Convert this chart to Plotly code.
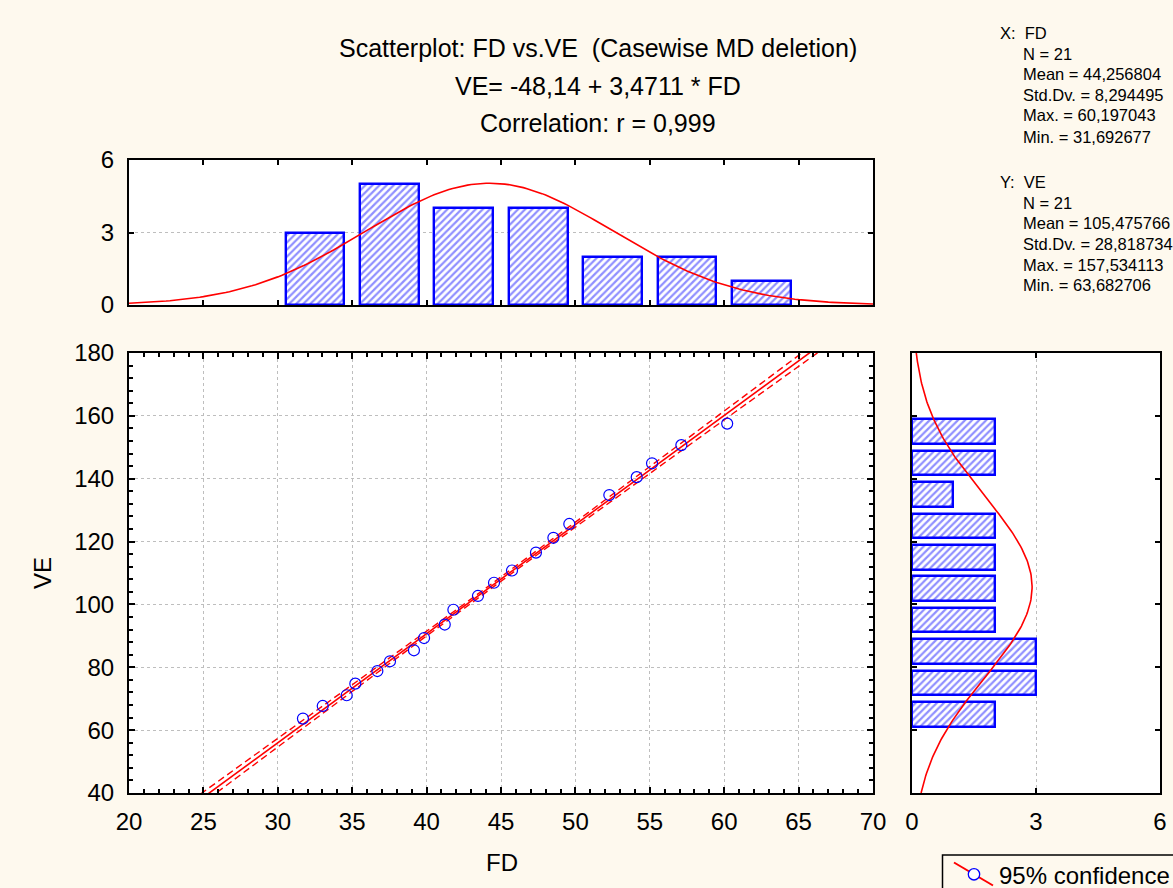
import numpy as np
import plotly.graph_objects as go

# ---------------- data ----------------
fd = [31.69, 33.02, 34.63, 35.21, 36.69, 37.54, 39.15, 39.83, 41.22, 41.80, 43.45,
      44.53, 45.74, 47.35, 48.52, 49.59, 52.28, 54.12, 55.15, 57.12, 60.20]
ve = [63.68, 67.7, 71.1, 74.8, 78.8, 81.9, 85.4, 89.3, 93.6, 98.3, 102.7,
      106.9, 110.8, 116.5, 121.2, 125.6, 134.8, 140.5, 144.9, 150.7, 157.53]

intercept = -48.14
slope = 3.4711

fd_bin_edges = [30, 35, 40, 45, 50, 55, 60, 65]
ve_bin_edges = [60, 70, 80, 90, 100, 110, 120, 130, 140, 150, 160]

x_ticks = [20, 25, 30, 35, 40, 45, 50, 55, 60, 65, 70]
y_ticks = [40, 60, 80, 100, 120, 140, 160, 180]
hist_ticks = [0, 3, 6]

title_lines = ["Scatterplot: FD vs.VE  (Casewise MD deletion)",
               "VE= -48,14 + 3,4711 * FD",
               "Correlation: r = 0,999"]
stats_x = ["X:  FD", "N = 21", "Mean = 44,256804", "Std.Dv. = 8,294495",
           "Max. = 60,197043", "Min. = 31,692677"]
stats_y = ["Y:  VE", "N = 21", "Mean = 105,475766", "Std.Dv. = 28,818734",
           "Max. = 157,534113", "Min. = 63,682706"]
legend_label = "95% confidence"

# ---------------- derived quantities ----------------
fd_a = np.array(fd)
ve_a = np.array(ve)
n = len(fd_a)
fd_mean, fd_sd = fd_a.mean(), fd_a.std(ddof=1)
ve_mean, ve_sd = ve_a.mean(), ve_a.std(ddof=1)

fd_counts, _ = np.histogram(fd_a, bins=fd_bin_edges)
ve_counts, _ = np.histogram(ve_a, bins=ve_bin_edges)
fd_centers = [(a + b) / 2 for a, b in zip(fd_bin_edges[:-1], fd_bin_edges[1:])]
ve_centers = [(a + b) / 2 for a, b in zip(ve_bin_edges[:-1], ve_bin_edges[1:])]

xs = np.linspace(20, 70, 201)
fit = intercept + slope * xs
resid = ve_a - (intercept + slope * fd_a)
s = np.sqrt(np.sum(resid ** 2) / (n - 2))
sxx = np.sum((fd_a - fd_mean) ** 2)
t_crit = 2.093
band = t_crit * s * np.sqrt(1 / n + (xs - fd_mean) ** 2 / sxx)

fd_w = fd_bin_edges[1] - fd_bin_edges[0]
ve_w = ve_bin_edges[1] - ve_bin_edges[0]
curve_fd = n * fd_w * np.exp(-0.5 * ((xs - fd_mean) / fd_sd) ** 2) / (fd_sd * np.sqrt(2 * np.pi))
ys = np.linspace(40, 180, 201)
curve_ve = n * ve_w * np.exp(-0.5 * ((ys - ve_mean) / ve_sd) ** 2) / (ve_sd * np.sqrt(2 * np.pi))

# ---------------- figure ----------------
W, H = 1173, 888
BG = "#FEF9EE"
FONT = "Liberation Sans, Arial, sans-serif"
RED = "#FF0000"
BLUE = "#0000FF"

def px(x):
    return x / W

def py(y):
    return 1 - y / H

fig = go.Figure()

pattern = dict(shape="/", fgcolor="#2020FF", bgcolor="white", size=5, solidity=0.45)

# top histogram
fig.add_trace(go.Bar(x=fd_centers, y=fd_counts, width=3.95, xaxis="x2", yaxis="y2",
                     marker=dict(color="white", pattern=pattern,
                                 line=dict(color=BLUE, width=2.4)),
                     showlegend=False))
fig.add_trace(go.Scatter(x=xs, y=curve_fd, mode="lines", xaxis="x2", yaxis="y2",
                         line=dict(color=RED, width=1.6), showlegend=False))

# right histogram
fig.add_trace(go.Bar(y=ve_centers, x=ve_counts, width=7.8, orientation="h",
                     xaxis="x3", yaxis="y3",
                     marker=dict(color="white", pattern=pattern,
                                 line=dict(color=BLUE, width=2.4)),
                     showlegend=False))
fig.add_trace(go.Scatter(x=curve_ve, y=ys, mode="lines", xaxis="x3", yaxis="y3",
                         line=dict(color=RED, width=1.6), showlegend=False))

# scatter: confidence bands, fit, points
fig.add_trace(go.Scatter(x=xs, y=fit + band, mode="lines", xaxis="x", yaxis="y",
                         line=dict(color=RED, width=1.4, dash="7px,4px"), showlegend=False))
fig.add_trace(go.Scatter(x=xs, y=fit - band, mode="lines", xaxis="x", yaxis="y",
                         line=dict(color=RED, width=1.4, dash="7px,4px"), showlegend=False))
fig.add_trace(go.Scatter(x=xs, y=fit, mode="lines", xaxis="x", yaxis="y",
                         line=dict(color=RED, width=1.6), showlegend=False))
fig.add_trace(go.Scatter(x=fd, y=ve, mode="markers", xaxis="x", yaxis="y",
                         marker=dict(symbol="circle-open", size=11, color=BLUE,
                                     line=dict(width=1.2, color=BLUE)),
                         showlegend=False))

tickfont = dict(family=FONT, size=24, color="black")
common = dict(showline=True, linecolor="black", linewidth=2, mirror="ticks",
              ticks="inside", tickcolor="black", zeroline=False, tickfont=tickfont,
              automargin=False)

main_x_dom = [px(129), px(873)]
main_y_dom = [py(793), py(353)]

fig.update_layout(
    width=W, height=H, autosize=False,
    margin=dict(l=0, r=0, t=0, b=0, pad=0),
    paper_bgcolor=BG, plot_bgcolor="white",
    font=dict(family=FONT, color="black"),
    showlegend=False,
    bargap=0,
    xaxis=dict(domain=main_x_dom, anchor="y", range=[20, 70], tickvals=x_ticks,
               ticklen=6, tickwidth=1.5,
               showgrid=True, gridcolor="#BEBEBE", griddash="dot", gridwidth=1,
               minor=dict(dtick=1, ticks="inside", ticklen=4, tickcolor="black", showgrid=False),
               ticklabelstandoff=6, **common),
    yaxis=dict(domain=main_y_dom, anchor="x", range=[40, 180], tickvals=y_ticks,
               ticklen=6, tickwidth=1.5,
               showgrid=True, gridcolor="#BEBEBE", griddash="dot", gridwidth=1,
               minor=dict(dtick=4, ticks="inside", ticklen=4, tickcolor="black", showgrid=False),
               ticklabelstandoff=8, **common),
    xaxis2=dict(domain=main_x_dom, anchor="y2", range=[20, 70], tickvals=x_ticks,
                ticklen=5, tickwidth=1.5, showticklabels=False, showgrid=False, **common),
    yaxis2=dict(domain=[py(305), py(160)], anchor="x2", range=[0, 6], tickvals=hist_ticks,
                ticklen=5, tickwidth=1.5, showgrid=True, gridcolor="#BEBEBE", griddash="dot",
                ticklabelstandoff=8, **common),
    xaxis3=dict(domain=[px(912), px(1160)], anchor="y3", range=[0, 6], tickvals=hist_ticks,
                ticklen=5, tickwidth=1.5, showgrid=True, gridcolor="#BEBEBE", griddash="dot",
                ticklabelstandoff=6, **common),
    yaxis3=dict(domain=main_y_dom, anchor="x3", range=[40, 180], tickvals=y_ticks,
                ticklen=5, tickwidth=1.5, showticklabels=False, showgrid=False, **common),
)

ann = []
for txt, yc in zip(title_lines, [48, 86, 123]):
    ann.append(dict(text=txt, x=px(598), y=py(yc), xref="paper", yref="paper",
                    xanchor="center", yanchor="middle", showarrow=False,
                    font=dict(family=FONT, size=25, color="black")))

stat_y_x = [33, 54, 74.5, 95, 115.5, 136.5]
stat_y_y = [182, 202.5, 223, 244, 264.5, 285]
for i, (txt, yc) in enumerate(zip(stats_x, stat_y_x)):
    ann.append(dict(text=txt, x=px(998 if i == 0 else 1020.5), y=py(yc), xref="paper", yref="paper",
                    xanchor="left", yanchor="middle", showarrow=False,
                    font=dict(family=FONT, size=16.5, color="black")))
for i, (txt, yc) in enumerate(zip(stats_y, stat_y_y)):
    ann.append(dict(text=txt, x=px(998 if i == 0 else 1020.5), y=py(yc), xref="paper", yref="paper",
                    xanchor="left", yanchor="middle", showarrow=False,
                    font=dict(family=FONT, size=16.5, color="black")))

# axis titles
ann.append(dict(text="FD", x=px(502), y=py(862), xref="paper", yref="paper",
                xanchor="center", yanchor="middle", showarrow=False,
                font=dict(family=FONT, size=24, color="black")))
ann.append(dict(text="VE", x=px(42), y=py(573), xref="paper", yref="paper",
                xanchor="center", yanchor="middle", showarrow=False, textangle=-90,
                font=dict(family=FONT, size=24, color="black")))

# legend text
ann.append(dict(text=legend_label, x=px(997), y=py(875.5), xref="paper", yref="paper",
                xanchor="left", yanchor="middle", showarrow=False,
                font=dict(family=FONT, size=24, color="black")))
fig.update_layout(annotations=ann)

# legend box and symbol
fig.add_shape(type="rect", xref="paper", yref="paper",
              x0=px(942.5), x1=px(1200), y0=py(855), y1=py(910),
              line=dict(color="black", width=1.5), fillcolor=BG, layer="above")
fig.add_shape(type="line", xref="paper", yref="paper",
              x0=px(954), y0=py(862.5), x1=px(993), y1=py(885.5),
              line=dict(color=RED, width=2), layer="above")
fig.add_shape(type="circle", xref="paper", yref="paper",
              x0=px(968.3), x1=px(979.7), y0=py(868.6), y1=py(880),
              line=dict(color=BLUE, width=1.3), fillcolor="white", layer="above")

fig.write_html("out.html",
               config={"displayModeBar": False},
               post_script="document.body.style.margin='0';"
                           "document.body.style.background='#FEF9EE';"
                           "document.body.style.overflow='hidden';")
